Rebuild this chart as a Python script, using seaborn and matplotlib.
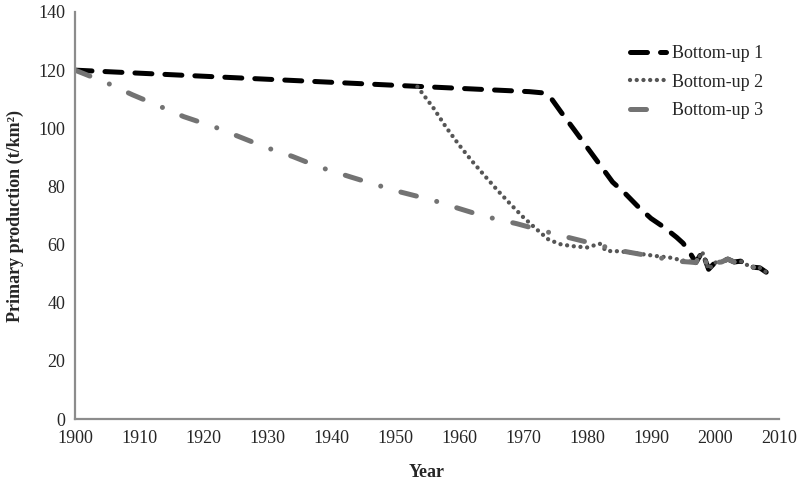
import matplotlib
matplotlib.use("Agg")
import matplotlib.pyplot as plt
import seaborn as sns
import pandas as pd

# ---- data ----
years_bu1 = [1900, 1971, 1973, 1974.5, 1976, 1978, 1980, 1982, 1984, 1986, 1988,
             1990, 1992, 1994, 1995, 1996, 1997, 1998, 1999, 2000, 2001, 2002,
             2003, 2004, 2005, 2006, 2007, 2008]
bu1 = [120, 112.6, 112.2, 110, 105.4, 99.5, 93.5, 87.5, 81.5, 77.5, 73,
       69, 66, 62.5, 60.5, 57.5, 53.8, 57.5, 51.5, 53.8, 54, 55,
       54, 54.3, 53, 52.2, 52, 50.5]

# Bottom-up 2 coincides with (is hidden under) Bottom-up 1 before ~1953
years_bu2 = [1953.5, 1956, 1958, 1960, 1962, 1964, 1966, 1968, 1970, 1972,
             1974, 1976, 1978, 1980, 1982, 1983, 1985, 1987, 1989, 1991, 1993,
             1995, 1996, 1997, 1998, 1999, 2000, 2001, 2002, 2003, 2004, 2005,
             2006, 2007, 2008]
bu2 = [114.3, 107, 100.3, 94.3, 88.8, 83.7, 78.7, 74, 69.5, 65.5,
       61.7, 60, 59.4, 59, 60.3, 57.8, 57.7, 57.2, 56.6, 56, 55.5,
       54.5, 54.2, 53.8, 57.5, 51.5, 53.8, 54, 55, 54, 54.3, 53,
       52.2, 52, 50.5]

years_bu3 = [1900, 1905, 1909, 1913, 1917, 1922, 1926, 1930, 1934, 1938, 1943,
             1947, 1951, 1956, 1960, 1964, 1969, 1973, 1977, 1981, 1985, 1988,
             1991, 1994, 1996, 1997, 1998, 1999, 2000, 2001, 2002, 2003, 2004,
             2005, 2006, 2007, 2008]
bu3 = [120, 115.6, 111.5, 107.8, 104, 100.3, 96.8, 93.3, 90.3, 86.8, 83.3,
       80.6, 78, 75.2, 72.4, 69.7, 67.2, 64.8, 62.5, 60.3, 58, 56.8,
       55.6, 54.3, 54, 53.8, 57.5, 51.5, 53.8, 54, 55, 54, 54.3,
       53, 52.2, 52, 50.5]

series_names = ["Bottom-up 1", "Bottom-up 2", "Bottom-up 3"]
x_ticks = list(range(1900, 2011, 10))
y_ticks = list(range(0, 141, 20))

# ---- style ----
sns.set_style("white")
plt.rcParams["font.family"] = ["Liberation Serif", "DejaVu Serif"]

fig = plt.figure(figsize=(7.98, 4.84), dpi=100)
ax = fig.add_axes([75 / 798, 65 / 484, (779 - 75) / 798, (419 - 12) / 484])

styles = [
    dict(color="#000000", lw=3.6, dashes=(3.4, 2.6)),
    dict(color="#555555", lw=3.1, dashes=(0.01, 1.55)),
    dict(color="#737373", lw=3.6, dashes=(3.2, 4.2, 0.01, 4.2)),
]
datasets = [(years_bu1, bu1), (years_bu2, bu2), (years_bu3, bu3)]

for (xs, ys), name, st in zip(datasets, series_names, styles):
    df = pd.DataFrame({"Year": xs, "Value": ys})
    sns.lineplot(data=df, x="Year", y="Value", ax=ax, color=st["color"],
                 lw=st["lw"], label=name, sort=False)
    line = ax.lines[-1]
    line.set_dashes(st["dashes"])
    line.set_dash_capstyle("round")
    line.set_solid_capstyle("round")

ax.set_xlim(1900, 2010)
ax.set_ylim(0, 140)
ax.set_xticks(x_ticks)
ax.set_yticks(y_ticks)
ax.tick_params(axis="both", direction="in", length=3, width=1, color="#8c8c8c",
               labelsize=13)
ax.tick_params(axis="x", pad=8)
ax.tick_params(axis="y", pad=7)

for s in ["top", "right"]:
    ax.spines[s].set_visible(False)
for s in ["left", "bottom"]:
    ax.spines[s].set_color("#8c8c8c")
    ax.spines[s].set_linewidth(1.6)

ax.set_xlabel("Year", fontsize=13, fontweight="bold", labelpad=12)
ax.set_ylabel("Primary production (t/km²)", fontsize=13, fontweight="bold", labelpad=10)

leg = ax.legend(loc="upper left", bbox_to_anchor=(630 / 798, 1 - 45 / 484),
                bbox_transform=fig.transFigure, frameon=False, fontsize=13,
                borderpad=0, borderaxespad=0, handlelength=2.0,
                handletextpad=0.3, labelspacing=0.65)

fig.savefig("out.png", dpi=100)
